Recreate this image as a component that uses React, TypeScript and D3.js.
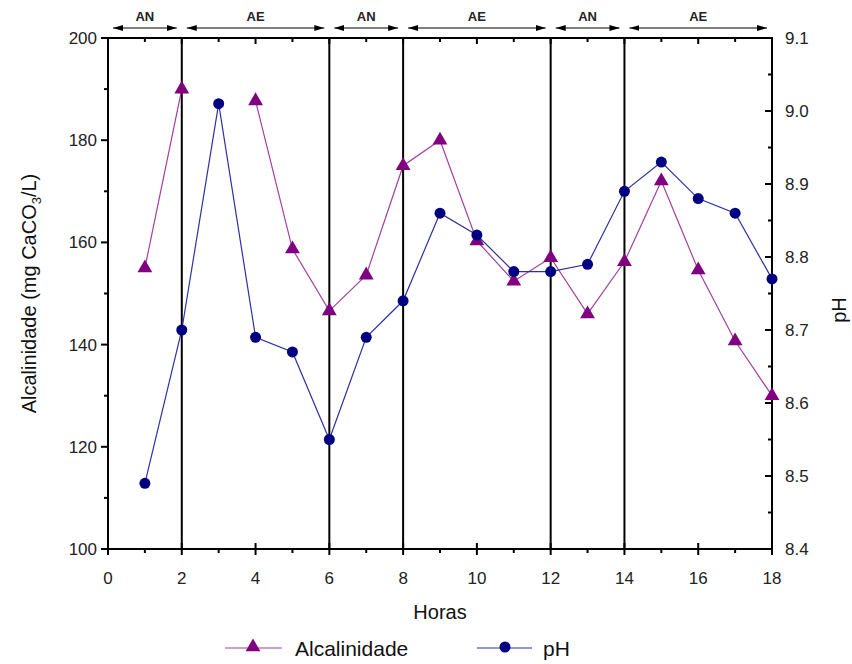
import React, { useEffect, useRef } from "react";
import * as d3 from "d3";

const horas = [1, 2, 3, 4, 5, 6, 7, 8, 9, 10, 11, 12, 13, 14, 15, 16, 17, 18];
const alcalinidade = [155, 190, null, 187.7, 158.7, 146.6, 153.6, 175, 180, 160.3, 152.4, 157, 146, 156.2, 172, 154.6, 140.7, 130];
const ph = [8.49, 8.7, 9.01, 8.69, 8.67, 8.55, 8.69, 8.74, 8.86, 8.83, 8.78, 8.78, 8.79, 8.89, 8.93, 8.88, 8.86, 8.77];
const fases = [
  { label: "AN", from: 0, to: 2 },
  { label: "AE", from: 2, to: 6 },
  { label: "AN", from: 6, to: 8 },
  { label: "AE", from: 8, to: 12 },
  { label: "AN", from: 12, to: 14 },
  { label: "AE", from: 14, to: 18 },
];
const divisoes = [2, 6, 8, 12, 14];

const W = 852;
const H = 664;
const FONT = "'Liberation Sans', Arial, sans-serif";

export default function App() {
  const ref = useRef<SVGSVGElement>(null);

  useEffect(() => {
    const svg = d3.select(ref.current);
    svg.selectAll("*").remove();

    const x = d3.scaleLinear().domain([0, 18]).range([108, 772]);
    const yL = d3.scaleLinear().domain([100, 200]).range([549, 38]);
    const yR = d3.scaleLinear().domain([8.4, 9.1]).range([549, 38]);

    const defs = svg.append("defs");
    defs.append("marker")
      .attr("id", "head")
      .attr("viewBox", "0 0 10 6")
      .attr("refX", 10).attr("refY", 3)
      .attr("markerWidth", 10).attr("markerHeight", 6)
      .attr("markerUnits", "userSpaceOnUse")
      .attr("orient", "auto-start-reverse")
      .append("path").attr("d", "M0,0 L10,3 L0,6 Z").attr("fill", "#000");

    // frame
    svg.append("rect")
      .attr("x", x(0)).attr("y", yL(200))
      .attr("width", x(18) - x(0)).attr("height", yL(100) - yL(200))
      .attr("fill", "none").attr("stroke", "#000").attr("stroke-width", 2);

    // vertical dividers
    svg.append("g").selectAll("line").data(divisoes).join("line")
      .attr("x1", (d) => x(d)).attr("x2", (d) => x(d))
      .attr("y1", yL(200)).attr("y2", yL(100))
      .attr("stroke", "#000").attr("stroke-width", 2);

    // bottom + top ticks
    const gB = svg.append("g").attr("stroke", "#000").attr("stroke-width", 2);
    d3.range(0, 19).forEach((h) => {
      const major = h % 2 === 0;
      gB.append("line")
        .attr("x1", x(h)).attr("x2", x(h))
        .attr("y1", yL(100) - (major ? 6 : 0)).attr("y2", yL(100) + (major ? 6 : 4));
      gB.append("line")
        .attr("x1", x(h)).attr("x2", x(h))
        .attr("y1", yL(200)).attr("y2", yL(200) + (major ? 6 : 4));
    });
    svg.append("g").selectAll("text").data(d3.range(0, 19, 2)).join("text")
      .attr("x", (d) => x(d)).attr("y", 584)
      .attr("text-anchor", "middle")
      .attr("font-family", FONT).attr("font-size", 17).attr("fill", "#222")
      .text((d) => d);

    // left axis
    const gL = svg.append("g").attr("stroke", "#000").attr("stroke-width", 2);
    d3.range(100, 201, 10).forEach((v) => {
      const major = v % 20 === 0;
      gL.append("line")
        .attr("x1", x(0) - (major ? 7 : 4)).attr("x2", x(0))
        .attr("y1", yL(v)).attr("y2", yL(v));
    });
    svg.append("g").selectAll("text").data(d3.range(100, 201, 20)).join("text")
      .attr("x", 97).attr("y", (d) => yL(d) + 6)
      .attr("text-anchor", "end")
      .attr("font-family", FONT).attr("font-size", 17).attr("fill", "#222")
      .text((d) => d);

    // right axis
    const gR = svg.append("g").attr("stroke", "#000").attr("stroke-width", 2);
    d3.range(0, 15).forEach((i) => {
      const v = 8.4 + i * 0.05;
      const major = i % 2 === 0;
      gR.append("line")
        .attr("x1", x(18) - (major ? 7 : 4)).attr("x2", x(18))
        .attr("y1", yR(v)).attr("y2", yR(v));
    });
    svg.append("g").selectAll("text").data(d3.range(0, 8)).join("text")
      .attr("x", 785).attr("y", (d) => yR(8.4 + d * 0.1) + 6)
      .attr("font-family", FONT).attr("font-size", 17).attr("fill", "#222")
      .text((d) => (8.4 + d * 0.1).toFixed(1));

    // axis titles
    svg.append("text")
      .attr("transform", `translate(36,${(yL(100) + yL(200)) / 2}) rotate(-90)`)
      .attr("text-anchor", "middle")
      .attr("font-family", FONT).attr("font-size", 20).attr("fill", "#111")
      .call((t) => {
        t.append("tspan").text("Alcalinidade (mg CaCO");
        t.append("tspan").attr("font-size", 13).attr("dy", 5).text("3");
        t.append("tspan").attr("dy", -5).text("/L)");
      });
    svg.append("text")
      .attr("transform", "translate(846,310) rotate(-90)")
      .attr("text-anchor", "middle")
      .attr("font-family", FONT).attr("font-size", 20).attr("fill", "#111")
      .text("pH");
    svg.append("text")
      .attr("x", (x(0) + x(18)) / 2).attr("y", 619)
      .attr("text-anchor", "middle")
      .attr("font-family", FONT).attr("font-size", 20).attr("fill", "#111")
      .text("Horas");

    // phase annotations
    const gF = svg.append("g");
    fases.forEach((f) => {
      const x1 = x(f.from) + 5;
      const x2 = x(f.to) - 5;
      gF.append("line")
        .attr("x1", x1).attr("x2", x2).attr("y1", 28).attr("y2", 28)
        .attr("stroke", "#000").attr("stroke-width", 1)
        .attr("marker-start", "url(#head)").attr("marker-end", "url(#head)");
      gF.append("text")
        .attr("x", (x(f.from) + x(f.to)) / 2).attr("y", 21)
        .attr("text-anchor", "middle")
        .attr("font-family", FONT).attr("font-size", 13).attr("font-weight", "bold")
        .attr("fill", "#222")
        .text(f.label);
    });

    // Alcalinidade series
    const alcPts = horas.map((h, i) => ({ h, v: alcalinidade[i] }));
    const lineAlc = d3.line<{ h: number; v: number | null }>()
      .defined((d) => d.v !== null)
      .x((d) => x(d.h)).y((d) => yL(d.v as number));
    svg.append("path").datum(alcPts).attr("d", lineAlc)
      .attr("fill", "none").attr("stroke", "#a040a0").attr("stroke-width", 1.2);
    const tri = d3.symbol().type(d3.symbolTriangle).size(95);
    svg.append("g").selectAll("path").data(alcPts.filter((d) => d.v !== null)).join("path")
      .attr("transform", (d) => `translate(${x(d.h)},${yL(d.v as number)})`)
      .attr("d", tri).attr("fill", "#800080");

    // pH series
    const phPts = horas.map((h, i) => ({ h, v: ph[i] }));
    const linePh = d3.line<{ h: number; v: number }>()
      .x((d) => x(d.h)).y((d) => yR(d.v));
    svg.append("path").datum(phPts).attr("d", linePh)
      .attr("fill", "none").attr("stroke", "#3030a0").attr("stroke-width", 1.2);
    svg.append("g").selectAll("circle").data(phPts).join("circle")
      .attr("cx", (d) => x(d.h)).attr("cy", (d) => yR(d.v))
      .attr("r", 5.5).attr("fill", "#000080");

    // legend
    const gLeg = svg.append("g");
    gLeg.append("line").attr("x1", 225).attr("x2", 282).attr("y1", 648).attr("y2", 648)
      .attr("stroke", "#a040a0").attr("stroke-width", 1.2);
    gLeg.append("path").attr("transform", "translate(253,647)").attr("d", tri).attr("fill", "#800080");
    gLeg.append("text").attr("x", 295).attr("y", 656)
      .attr("font-family", FONT).attr("font-size", 21).attr("fill", "#111").text("Alcalinidade");
    gLeg.append("line").attr("x1", 477).attr("x2", 532).attr("y1", 648).attr("y2", 648)
      .attr("stroke", "#3030a0").attr("stroke-width", 1.2);
    gLeg.append("circle").attr("cx", 505).attr("cy", 647).attr("r", 5.5).attr("fill", "#000080");
    gLeg.append("text").attr("x", 543).attr("y", 656)
      .attr("font-family", FONT).attr("font-size", 21).attr("fill", "#111").text("pH");
  }, []);

  return (
    <svg ref={ref} width={W} height={H} style={{ display: "block", position: "absolute", left: 0, top: 0, background: "#fff" }} />
  );
}
